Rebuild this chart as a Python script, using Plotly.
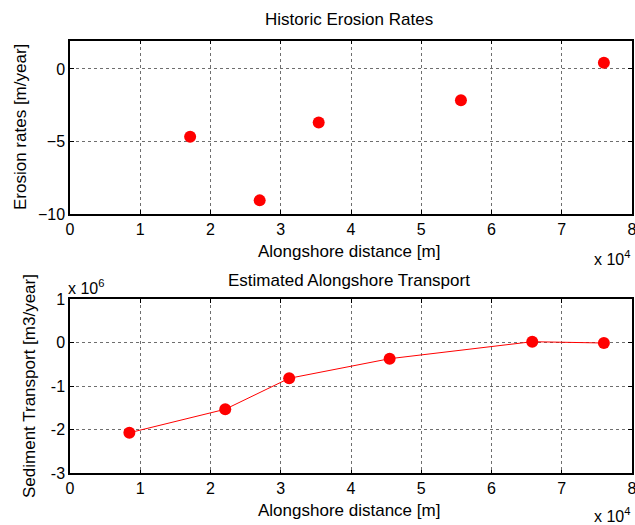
import plotly.graph_objects as go

# Data
erosion_x = [17100, 27000, 35400, 55650, 76000]
erosion_y = [-4.68, -9.06, -3.69, -2.16, 0.43]

transport_x = [8450, 22100, 31200, 45500, 65800, 76000]
transport_y = [-2.07e6, -1.53e6, -0.82e6, -0.37e6, 0.02e6, -0.01e6]

x_ticks = [0, 10000, 20000, 30000, 40000, 50000, 60000, 70000, 80000]
x_ticktext = ["0", "1", "2", "3", "4", "5", "6", "7", "8"]
y1_ticks = [-10, -5, 0]
y2_ticks = [-3e6, -2e6, -1e6, 0, 1e6]
y2_ticktext = ["-3", "-2", "-1", "0", "1"]

W, H = 635, 525
FONT = "Liberation Sans, Arial, sans-serif"
TICK_SIZE = 16
TEXT_SIZE = 17

fig = go.Figure()
fig.add_trace(go.Scatter(x=erosion_x, y=erosion_y, mode="markers",
                         marker=dict(color="#ff0000", size=12),
                         xaxis="x", yaxis="y", showlegend=False))
fig.add_trace(go.Scatter(x=transport_x, y=transport_y, mode="lines+markers",
                         marker=dict(color="#ff0000", size=12),
                         line=dict(color="#ff0000", width=1),
                         xaxis="x2", yaxis="y2", showlegend=False))

xl, xr = 70 / W, 632 / W
top_dom = [1 - 214 / H, 1 - 40.7 / H]
bot_dom = [1 - 473.3 / H, 1 - 299 / H]

axis_common = dict(showline=True, linecolor="black", linewidth=1.5, mirror="ticks",
                   ticks="inside", ticklen=4, tickcolor="black", tickwidth=1,
                   showgrid=True, gridcolor="#6e6e6e", griddash="dot", gridwidth=1,
                   zeroline=False, automargin=False, ticklabeloverflow="allow",
                   tickfont=dict(family=FONT, size=TICK_SIZE, color="black"))

fig.update_layout(
    template="none",
    width=W, height=H,
    margin=dict(l=0, r=0, t=0, b=0),
    paper_bgcolor="white", plot_bgcolor="white",
    font=dict(family=FONT, size=TEXT_SIZE, color="black"),
    xaxis=dict(domain=[xl, xr], range=[0, 80000], tickvals=x_ticks, ticktext=x_ticktext,
               anchor="y", **axis_common),
    yaxis=dict(domain=top_dom, range=[-10, 1.95], tickvals=y1_ticks, anchor="x", **axis_common),
    xaxis2=dict(domain=[xl, xr], range=[0, 80000], tickvals=x_ticks, ticktext=x_ticktext,
                anchor="y2", **axis_common),
    yaxis2=dict(domain=bot_dom, range=[-3e6, 1e6], tickvals=y2_ticks, ticktext=y2_ticktext,
                anchor="x2", **axis_common),
)

def ann(text, x, y, xanchor="center", yanchor="middle", angle=0, size=TEXT_SIZE):
    fig.add_annotation(text=text, x=x / W, y=1 - y / H, xref="paper", yref="paper",
                       xanchor=xanchor, yanchor=yanchor, textangle=angle, showarrow=False,
                       font=dict(family=FONT, size=size, color="black"))

ann("Historic Erosion Rates", 349, 20)
ann("Estimated Alongshore Transport", 349, 280)
ann("Alongshore distance [m]", 349, 251)
ann("Alongshore distance [m]", 349, 510)
ann("Erosion rates [m/year]", 21, 127, angle=-90)
ann("Sediment Transport [m3/year]", 29, 386, angle=-90)
ann("x 10<sup>4</sup>", 592, 258, xanchor="left", size=16)
ann("x 10<sup>4</sup>", 592, 515, xanchor="left", size=16)
ann("x 10<sup>6</sup>", 66, 287, xanchor="left", size=16)

fig.write_html("out.html")
